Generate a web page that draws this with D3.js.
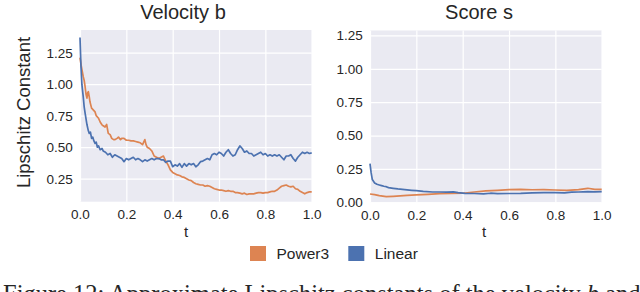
<!DOCTYPE html>
<html>
<head>
<meta charset="utf-8">
<script src="https://cdn.jsdelivr.net/npm/d3@7"></script>
<style>
  body { margin: 0; background: #fff; }
  text { font-family: "Liberation Sans", Arial, sans-serif; fill: #262626; }
</style>
</head>
<body>
<div id="chart"></div>
<script>
// Values, as [t, Lipschitz constant] pairs

var seriesNames = ["Power3", "Linear"];
var colors = ["#DD8452", "#4C72B0"];
var xTicks = [0, 0.2, 0.4, 0.6, 0.8, 1.0];
var yTicksLeft = [0.25, 0.5, 0.75, 1.0, 1.25];
var yTicksRight = [0, 0.25, 0.5, 0.75, 1.0, 1.25];

var velocityLinear = [
  [0, 1.37], [0.004, 1.15], [0.008, 1.0], [0.014, 0.90], [0.018, 0.82], [0.022, 0.77],
  [0.03, 0.68], [0.036, 0.63], [0.04, 0.61], [0.045, 0.62], [0.05, 0.57], [0.055, 0.58],
  [0.06, 0.55], [0.065, 0.53], [0.07, 0.54], [0.075, 0.50], [0.08, 0.51], [0.087, 0.48],
  [0.095, 0.49], [0.10, 0.47], [0.11, 0.46], [0.12, 0.44], [0.13, 0.45], [0.14, 0.42],
  [0.15, 0.44], [0.16, 0.43], [0.17, 0.42], [0.18, 0.41], [0.19, 0.385], [0.20, 0.41],
  [0.21, 0.40], [0.22, 0.41], [0.23, 0.42], [0.24, 0.40], [0.25, 0.41], [0.26, 0.40],
  [0.27, 0.385], [0.28, 0.40], [0.29, 0.39], [0.30, 0.40], [0.31, 0.41], [0.32, 0.40],
  [0.33, 0.41], [0.34, 0.41], [0.35, 0.40], [0.36, 0.40], [0.37, 0.38], [0.38, 0.39],
  [0.39, 0.39], [0.40, 0.345], [0.41, 0.36], [0.42, 0.35], [0.43, 0.37], [0.44, 0.34],
  [0.45, 0.37], [0.46, 0.35], [0.47, 0.37], [0.48, 0.36], [0.49, 0.37], [0.50, 0.345],
  [0.51, 0.36], [0.52, 0.385], [0.53, 0.39], [0.54, 0.40], [0.55, 0.41], [0.56, 0.40],
  [0.57, 0.44], [0.58, 0.45], [0.59, 0.44], [0.60, 0.46], [0.61, 0.45], [0.62, 0.43],
  [0.63, 0.46], [0.64, 0.48], [0.65, 0.45], [0.66, 0.43], [0.67, 0.44], [0.68, 0.48],
  [0.69, 0.51], [0.70, 0.49], [0.71, 0.46], [0.72, 0.47], [0.73, 0.45], [0.74, 0.45],
  [0.75, 0.43], [0.76, 0.44], [0.77, 0.45], [0.78, 0.46], [0.79, 0.44], [0.80, 0.45],
  [0.81, 0.43], [0.82, 0.44], [0.83, 0.43], [0.84, 0.44], [0.85, 0.43], [0.86, 0.44],
  [0.87, 0.42], [0.88, 0.40], [0.89, 0.43], [0.90, 0.43], [0.91, 0.44], [0.92, 0.41],
  [0.93, 0.39], [0.94, 0.42], [0.95, 0.44], [0.96, 0.46], [0.97, 0.45], [0.98, 0.46],
  [0.99, 0.45], [1.00, 0.455]
];

var velocityPower3 = [
  [0, 1.21], [0.005, 1.15], [0.01, 1.10], [0.014, 1.06], [0.018, 1.03], [0.022, 0.98],
  [0.026, 0.92], [0.03, 0.89], [0.033, 0.93], [0.036, 0.94], [0.04, 0.90], [0.043, 0.86],
  [0.05, 0.81], [0.055, 0.80], [0.06, 0.79], [0.065, 0.78], [0.07, 0.75], [0.08, 0.73],
  [0.087, 0.70], [0.094, 0.68], [0.10, 0.67], [0.108, 0.66], [0.115, 0.68], [0.122, 0.61],
  [0.13, 0.60], [0.137, 0.57], [0.145, 0.56], [0.15, 0.56], [0.16, 0.57], [0.166, 0.58],
  [0.175, 0.56], [0.18, 0.57], [0.19, 0.57], [0.20, 0.555], [0.21, 0.555], [0.22, 0.55],
  [0.23, 0.55], [0.24, 0.545], [0.25, 0.54], [0.26, 0.535], [0.27, 0.52], [0.28, 0.56],
  [0.285, 0.52], [0.29, 0.50], [0.30, 0.49], [0.31, 0.47], [0.32, 0.43], [0.33, 0.42],
  [0.34, 0.41], [0.35, 0.42], [0.36, 0.43], [0.37, 0.39], [0.38, 0.36], [0.39, 0.32],
  [0.40, 0.30], [0.41, 0.29], [0.42, 0.28], [0.43, 0.275], [0.44, 0.265], [0.45, 0.26],
  [0.46, 0.25], [0.47, 0.24], [0.48, 0.235], [0.49, 0.22], [0.50, 0.21], [0.51, 0.205],
  [0.52, 0.20], [0.53, 0.20], [0.54, 0.19], [0.55, 0.195], [0.56, 0.19], [0.57, 0.18],
  [0.58, 0.17], [0.59, 0.165], [0.60, 0.16], [0.61, 0.16], [0.62, 0.155], [0.63, 0.15],
  [0.64, 0.155], [0.65, 0.15], [0.66, 0.15], [0.67, 0.14], [0.68, 0.14], [0.69, 0.135],
  [0.70, 0.13], [0.71, 0.135], [0.72, 0.125], [0.73, 0.13], [0.74, 0.13], [0.75, 0.13],
  [0.76, 0.135], [0.77, 0.14], [0.78, 0.14], [0.79, 0.135], [0.80, 0.14], [0.81, 0.14],
  [0.82, 0.145], [0.83, 0.15], [0.84, 0.15], [0.85, 0.16], [0.86, 0.175], [0.87, 0.19],
  [0.88, 0.195], [0.89, 0.20], [0.90, 0.19], [0.91, 0.185], [0.92, 0.19], [0.93, 0.17],
  [0.94, 0.165], [0.95, 0.15], [0.96, 0.14], [0.97, 0.13], [0.98, 0.14], [0.99, 0.145],
  [1.00, 0.145]
];

var scoreLinear = [
  [0, 0.29], [0.005, 0.22], [0.01, 0.17], [0.02, 0.145], [0.03, 0.135], [0.04, 0.13],
  [0.05, 0.125], [0.06, 0.12], [0.07, 0.117], [0.08, 0.11], [0.10, 0.105], [0.12, 0.10],
  [0.15, 0.095], [0.18, 0.09], [0.20, 0.087], [0.23, 0.082], [0.27, 0.077], [0.30, 0.077],
  [0.33, 0.076], [0.36, 0.078], [0.38, 0.072], [0.41, 0.067], [0.45, 0.066], [0.49, 0.063],
  [0.52, 0.068], [0.55, 0.065], [0.60, 0.066], [0.65, 0.067], [0.70, 0.07], [0.75, 0.072],
  [0.80, 0.072], [0.84, 0.07], [0.87, 0.076], [0.90, 0.077], [0.94, 0.08], [0.97, 0.078],
  [1.00, 0.08]
];

var scorePower3 = [
  [0, 0.062], [0.02, 0.058], [0.04, 0.05], [0.07, 0.043], [0.10, 0.045], [0.13, 0.048],
  [0.16, 0.052], [0.20, 0.055], [0.25, 0.06], [0.30, 0.065], [0.35, 0.067], [0.40, 0.068],
  [0.45, 0.077], [0.50, 0.085], [0.55, 0.09], [0.60, 0.095], [0.65, 0.097], [0.70, 0.094],
  [0.75, 0.095], [0.80, 0.092], [0.85, 0.09], [0.90, 0.095], [0.94, 0.105], [0.97, 0.097],
  [1.00, 0.097]
];

var svgWidth = 640;
var svgHeight = 292;

var svg = d3.select("#chart").append("svg")
    .attr("width", svgWidth)
    .attr("height", svgHeight);

// Panel definitions: plot rectangle in page pixels plus y range
var panels = [
  { title: "Velocity b", left: 80, right: 311.7, top: 30, bottom: 201.7,
    yDomain: [0.0675, 1.43], yTicks: yTicksLeft, titleX: 183, labelX: 186,
    lines: [velocityPower3, velocityLinear] },
  { title: "Score s", left: 370, right: 601.7, top: 30.5, bottom: 202.3,
    yDomain: [0, 1.287], yTicks: yTicksRight, titleX: 479, labelX: 484,
    lines: [scorePower3, scoreLinear] }
];

panels.forEach(function(p) {
    var w = p.right - p.left;
    var h = p.bottom - p.top;
    var g = svg.append("g").attr("transform", `translate(${p.left}, ${p.top})`);

    var x = d3.scaleLinear().domain([0, 1]).range([0, w]);
    var y = d3.scaleLinear().domain(p.yDomain).range([h, 0]);

    g.append("rect").attr("width", w).attr("height", h).attr("fill", "#EAEAF2");

    // white grid
    g.append("g")
        .attr("transform", `translate(0, ${h})`)
        .call(d3.axisBottom(x).tickValues(xTicks).tickSize(-h).tickFormat(""))
        .call(a => a.select(".domain").remove())
        .call(a => a.selectAll("line").attr("stroke", "#fff").attr("stroke-width", 1.2));
    g.append("g")
        .call(d3.axisLeft(y).tickValues(p.yTicks).tickSize(-w).tickFormat(""))
        .call(a => a.select(".domain").remove())
        .call(a => a.selectAll("line").attr("stroke", "#fff").attr("stroke-width", 1.2));

    // tick labels
    g.append("g")
        .attr("transform", `translate(0, ${h})`)
        .call(d3.axisBottom(x).tickValues(xTicks).tickSize(0).tickPadding(8).tickFormat(d3.format(".1f")))
        .call(a => a.select(".domain").remove())
        .call(a => a.selectAll("text").attr("font-size", "13.5px").attr("fill", "#262626")
            .style("font-family", "'Liberation Sans', Arial, sans-serif"));
    g.append("g")
        .call(d3.axisLeft(y).tickValues(p.yTicks).tickSize(0).tickPadding(7.3).tickFormat(d3.format(".2f")))
        .call(a => a.select(".domain").remove())
        .call(a => a.selectAll("text").attr("font-size", "13.5px").attr("fill", "#262626")
            .style("font-family", "'Liberation Sans', Arial, sans-serif"));

    var line = d3.line().x(d => x(d[0])).y(d => y(d[1]));
    p.lines.forEach(function(data, i) {
        g.append("path")
            .datum(data)
            .attr("fill", "none")
            .attr("stroke", colors[i])
            .attr("stroke-width", 1.7)
            .attr("stroke-linejoin", "round")
            .attr("d", line);
    });

    svg.append("text")
        .attr("x", p.titleX)
        .attr("y", 18.5)
        .attr("text-anchor", "middle")
        .attr("font-size", "20px")
        .text(p.title);

    svg.append("text")
        .attr("x", p.labelX)
        .attr("y", 236.5)
        .attr("text-anchor", "middle")
        .attr("font-size", "15px")
        .text("t");
});

// y label
svg.append("text")
    .attr("transform", "translate(30, 112.5) rotate(-90)")
    .attr("text-anchor", "middle")
    .attr("font-size", "18.5px")
    .text("Lipschitz Constant");

// legend
var legendX = [250, 348.3];
seriesNames.forEach(function(name, i) {
    svg.append("rect")
        .attr("x", legendX[i]).attr("y", 246)
        .attr("width", 16).attr("height", 15)
        .attr("fill", colors[i]);
    svg.append("text")
        .attr("x", legendX[i] + 26.5)
        .attr("y", 259.3)
        .attr("font-size", "15.5px")
        .text(name);
});

// caption (cut off at the bottom of the picture, as in the original page)
var caption = svg.append("text")
    .attr("x", 3)
    .attr("y", 302)
    .attr("font-size", "24.5px")
    .style("font-family", "'Liberation Serif', 'Times New Roman', serif")
    .attr("fill", "#000");
caption.append("tspan").text("Figure 12: Approximate Lipschitz constants of the velocity ");
caption.append("tspan").attr("font-style", "italic").text("b");
caption.append("tspan").text(" and");
</script>
</body>
</html>
